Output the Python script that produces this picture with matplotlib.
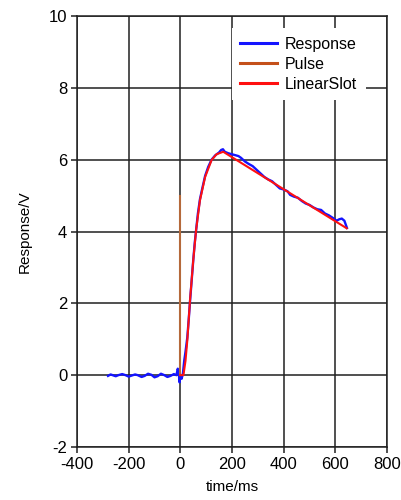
import matplotlib
matplotlib.use("Agg")
import matplotlib.pyplot as plt
from matplotlib.lines import Line2D

plt.rcParams['font.family'] = ['Liberation Sans', 'DejaVu Sans']
plt.rcParams['axes.unicode_minus'] = False

# Measured response (ms, V)
resp_t = [-280, -270, -262, -250, -240, -225, -212, -200, -188, -175, -165,
          -150, -138, -125, -112, -100, -88, -75, -62, -50, -38, -25, -15,
          -10, -6, -3, 0, 5, 10, 15, 20, 27, 33, 38, 44, 50, 56, 62, 68, 76,
          85, 96, 108, 121, 135, 150, 158, 165, 172, 185, 200, 215, 225, 235,
          250, 265, 280, 295, 310, 325, 340, 355, 370, 385, 400, 415, 425,
          440, 455, 470, 485, 500, 515, 530, 545, 560, 575, 590, 605, 615,
          625, 635, 645]
resp_v = [-0.02, 0.02, 0.0, -0.03, 0.0, 0.03, 0.0, -0.04, -0.01, 0.02, 0.0,
          -0.05, -0.02, 0.04, 0.01, -0.06, -0.03, 0.04, 0.0, -0.05, -0.02,
          0.03, 0.0, 0.18, 0.05, -0.2, 0.0, -0.1, 0.05, 0.4, 0.65, 1.05, 1.6,
          2.1, 2.65, 3.2, 3.7, 4.1, 4.5, 4.9, 5.2, 5.55, 5.8, 6.0, 6.12, 6.2,
          6.27, 6.29, 6.22, 6.18, 6.15, 6.12, 6.1, 6.05, 5.95, 5.88, 5.82,
          5.72, 5.62, 5.52, 5.45, 5.4, 5.3, 5.2, 5.17, 5.12, 5.02, 4.97, 4.94,
          4.85, 4.78, 4.74, 4.67, 4.62, 4.6, 4.5, 4.45, 4.38, 4.3, 4.34, 4.36,
          4.3, 4.1]

# Stimulus pulse
pulse_t = [0, 0]
pulse_v = [0, 5]

# Fitted linear-slot model
fit_t = [0, 12, 20, 27, 37.5, 50, 61, 76, 96, 121, 140, 166, 644]
fit_v = [0.0, 0.0, 0.4, 0.97, 2.09, 3.2, 4.04, 4.87, 5.52, 5.99, 6.15, 6.22, 4.09]

x_ticks = [-400, -200, 0, 200, 400, 600, 800]
y_ticks = [-2, 0, 2, 4, 6, 8, 10]

fig = plt.figure(figsize=(4.01, 5.00), dpi=100)
ax = fig.add_axes([77 / 401, 53 / 500, 310 / 401, 431 / 500])

blue = '#1414ff'
pulse_plot = '#b5693a'
pulse_leg = '#c4501a'
red = '#ff1010'

ax.plot(resp_t, resp_v, color=blue, lw=1.7, zorder=3)
ax.plot(pulse_t, pulse_v, color=pulse_plot, lw=1.5, zorder=4)
ax.plot(fit_t, fit_v, color=red, lw=1.5, zorder=5)

ax.set_xlim(-400, 800)
ax.set_ylim(-2, 10)
ax.set_xticks(x_ticks)
ax.set_yticks(y_ticks)
ax.grid(True, color='#202020', lw=1.1, zorder=1)
ax.set_axisbelow(True)
for s in ax.spines.values():
    s.set_color('#202020')
    s.set_linewidth(1.1)
ax.tick_params(direction='out', length=4, width=1.1, color='#202020',
               labelsize=12, pad=3)

ax.set_xlabel('time/ms', fontsize=11, labelpad=6)
ax.set_ylabel('Response/V', fontsize=11, labelpad=12)

handles = [Line2D([], [], color=blue, lw=2.2),
           Line2D([], [], color=pulse_leg, lw=2.2),
           Line2D([], [], color=red, lw=2.2)]
leg = ax.legend(handles, ['Response', 'Pulse', 'LinearSlot'],
                loc='center', bbox_to_anchor=(0.716, 0.888),
                frameon=True, fontsize=11.5, handlelength=2.3,
                handletextpad=0.5, labelspacing=0.3, borderpad=0.55,
                fancybox=False, framealpha=1.0)
leg.get_frame().set_edgecolor('white')
leg.get_frame().set_linewidth(0)
leg.set_zorder(10)

fig.savefig('out.png', dpi=100)
